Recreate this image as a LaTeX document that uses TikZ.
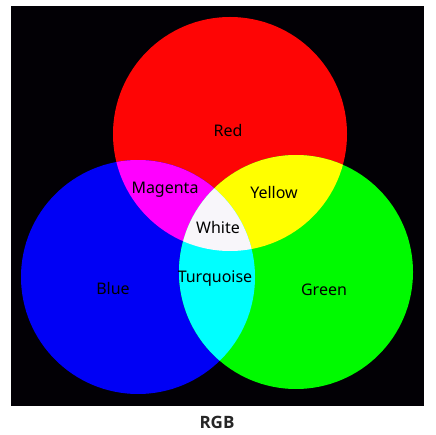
\documentclass[tikz,border=0pt]{standalone}
\usepackage{fontspec}
\setmainfont{Noto Sans}
\newfontfamily\titlefont{Open Sans}
\definecolor{bgblack}{HTML}{020005}
\definecolor{cred}{HTML}{FE0505}
\definecolor{cblue}{HTML}{0000F5}
\definecolor{cgreen}{HTML}{00FA00}
\definecolor{cmag}{HTML}{FF00FF}
\definecolor{cyel}{HTML}{FFFF00}
\definecolor{ccyan}{HTML}{00FFFF}
\definecolor{cwhite}{HTML}{F8F6FA}
\begin{document}
\begin{tikzpicture}[x=1pt,y=-1pt,
  lbl/.style={font=\fontsize{16}{18}\selectfont, text=black, inner sep=0pt},
  title/.style={font=\titlefont\fontsize{17}{19}\selectfont\bfseries, text=black!85, inner sep=0pt}]
\useasboundingbox (0,0) rectangle (436,435);
\fill[white] (0,0) rectangle (436,435);
\fill[bgblack] (11,6) rectangle (424,406);
\def\redc{(230,134) circle[radius=117]}
\def\bluec{(138,277) circle[radius=117]}
\def\greenc{(296,272) circle[radius=117]}
\fill[cred] \redc;
\fill[cblue] \bluec;
\fill[cgreen] \greenc;
\begin{scope}
  \clip \redc;
  \fill[cmag] \bluec;
  \fill[cyel] \greenc;
\end{scope}
\begin{scope}
  \clip \bluec;
  \fill[ccyan] \greenc;
  \clip \greenc;
  \fill[cwhite] \redc;
\end{scope}
\node[lbl] (red) at (228,131) {Red};
\node[lbl] (magenta) at (165,190) {Magenta};
\node[lbl] (yellow) at (274,193) {Yellow};
\node[lbl] (white) at (218,228) {White};
\node[lbl] (blue) at (113,289) {Blue};
\node[lbl] (turq) at (215,279) {Turquoise};
\node[lbl] (green) at (324,290) {Green};
\node[title] (rgb) at (217,422) {RGB};
\end{tikzpicture}
\end{document}
